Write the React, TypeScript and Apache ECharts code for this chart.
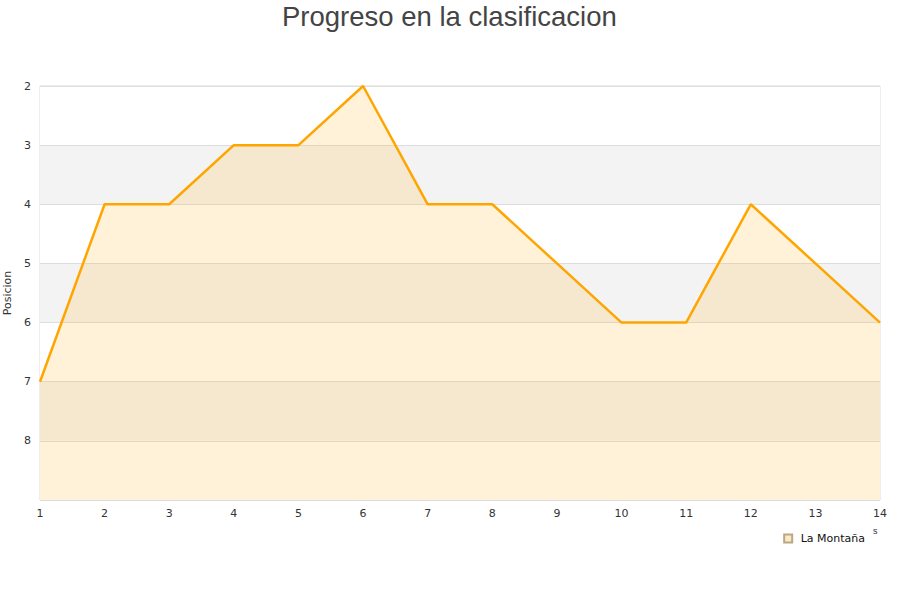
import React, { useEffect, useRef } from "react";
import * as echarts from "echarts";

const jornadas = ["1", "2", "3", "4", "5", "6", "7", "8", "9", "10", "11", "12", "13", "14"];
const posiciones = [7, 4, 4, 3, 3, 2, 4, 4, 5, 6, 6, 4, 5, 6];
const equipo = "La Montaña";

export default function App() {
  const ref = useRef<HTMLDivElement>(null);

  useEffect(() => {
    if (!ref.current) return;
    const chart = echarts.init(ref.current, null, { renderer: "svg" });
    chart.setOption({
      animation: false,
      backgroundColor: "#ffffff",
      textStyle: { fontFamily: "DejaVu Sans" },
      title: {
        text: "Progreso en la clasificacion",
        left: 277,
        top: -3,
        textStyle: { fontSize: 27.5, fontWeight: "normal", color: "#444", fontFamily: "Liberation Sans" },
      },
      legend: {
        data: [{ name: equipo, icon: "rect" }],
        right: 30,
        top: 528,
        itemWidth: 8,
        itemHeight: 8,
        formatter: (n: string) => " " + n,
        textStyle: { fontSize: 11, color: "#111" },
      },
      grid: {
        left: 40,
        right: 20,
        top: 86,
        bottom: 100,
        outerBoundsMode: "none",
        containLabel: false,
        show: true,
        borderColor: "#dddddd",
        borderWidth: 1,
        backgroundColor: "transparent",
      },
      xAxis: {
        type: "category",
        data: jornadas,
        boundaryGap: false,
        axisLine: { show: false },
        axisTick: { show: false },
        axisLabel: { color: "#333", fontSize: 11, margin: 8 },
        splitLine: { show: false },
      },
      yAxis: {
        type: "value",
        inverse: true,
        min: 2,
        max: 9,
        interval: 1,
        name: "Posicion",
        nameLocation: "middle",
        nameGap: 22,
        nameTextStyle: { fontSize: 11, color: "#333" },
        axisLine: { show: false },
        axisTick: { show: false },
        axisLabel: {
          color: "#333",
          fontSize: 11,
          margin: 9,
          formatter: (v: number) => (v === 9 ? "" : String(v)),
        },
        splitLine: { show: true, lineStyle: { color: "#dddddd" } },
        splitArea: { show: true, areaStyle: { color: ["#ffffff", "#f3f3f3"] } },
      },
      series: [
        {
          name: equipo,
          type: "line",
          data: posiciones,
          symbol: "none",
          lineStyle: { color: "#ffa500", width: 2.5 },
          itemStyle: { color: "#fde9c3", borderColor: "#b8a888", borderWidth: 1 },
          areaStyle: { color: "rgba(255,180,40,0.25)", origin: "end" },
        },
      ],
      graphic: [
        {
          type: "text",
          left: 873,
          top: 526,
          style: { text: "s", fontSize: 9, fill: "#333" },
        },
      ],
    });
    return () => chart.dispose();
  }, []);

  return (
    <div
      ref={ref}
      style={{ position: "absolute", left: 0, top: 0, width: 900, height: 600 }}
    />
  );
}
